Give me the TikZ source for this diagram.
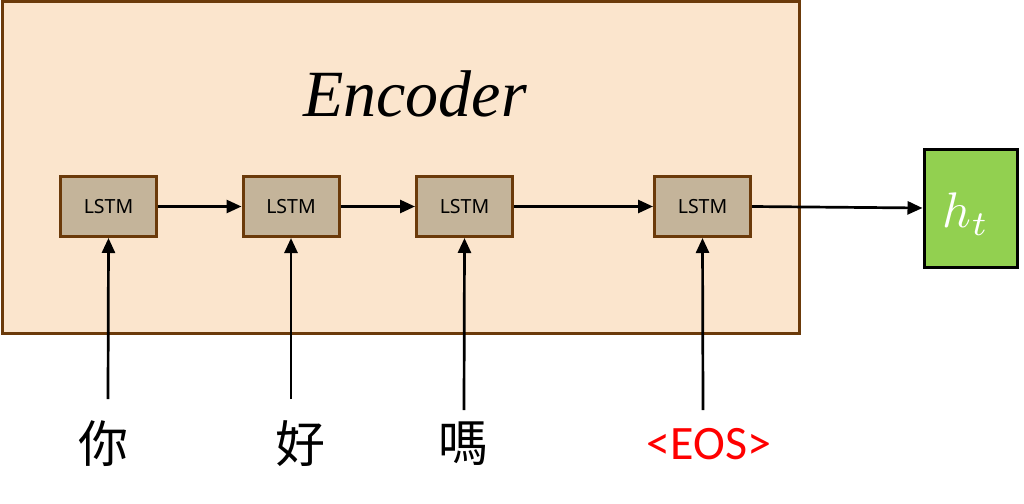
\documentclass[tikz,border=0pt]{standalone}
\usepackage{graphicx}
\usepackage{fontspec}
\setmainfont{Liberation Serif}
\newfontfamily\cjkfont{Noto Sans CJK TC}
\newfontfamily\lstmfont{Noto Sans}
\newfontfamily\eosfont{Carlito}
\usetikzlibrary{arrows.meta}
\definecolor{encfill}{HTML}{FBE5CD}
\definecolor{encbrd}{HTML}{6B3A0A}
\definecolor{lstmfill}{HTML}{C4B49A}
\definecolor{htfill}{HTML}{92D050}
\tikzset{
  lstmbox/.style={draw=encbrd, fill=lstmfill, line width=3pt, minimum width=96pt, minimum height=60pt, inner sep=0pt, font=\lstmfont\fontsize{19.5}{19.5}\selectfont},
  conn/.style={line width=2.7pt, -{Triangle[length=15pt,width=13pt]}},
  word/.style={inner sep=0pt, font=\cjkfont\fontsize{50}{50}\selectfont},
}
\begin{document}
\begin{tikzpicture}[x=1pt,y=-1pt]
\useasboundingbox (0,0) rectangle (1024,503);
\node[draw=encbrd, fill=encfill, line width=3pt, minimum width=797pt, minimum height=331pt, inner sep=0pt] (enc) at (401,167.5) {};
\node[font=\itshape\fontsize{66}{66}\selectfont, inner sep=0pt] (enctitle) at (415,94) {Encoder};
\node[lstmbox] (l1) at (108.5,206.5) {LSTM};
\node[lstmbox] (l2) at (291,206.5) {LSTM};
\node[lstmbox] (l3) at (464.5,206.5) {LSTM};
\node[lstmbox] (l4) at (702.5,206.5) {LSTM};
\node[draw=black, fill=htfill, line width=3pt, minimum width=93pt, minimum height=118pt, inner sep=0pt] (ht) at (970.5,208) {};
\node[text=white, inner sep=0pt] (htlabel) at (966,214) {\scalebox{5}{$h_t$}};
\draw[conn] (l1) -- (l2);
\draw[conn] (l2) -- (l3);
\draw[conn] (l3) -- (l4);
\draw[conn] (l4.east) -- (ht.west);
\coordinate (s1) at (108,399);
\coordinate (s2) at (291,399);
\coordinate (s3) at (464,410);
\coordinate (s4) at (703,410);
\draw[conn] (s1) -- (l1.south);
\draw[conn] (s2) -- (l2.south);
\draw[conn] (s3) -- (l3.south);
\draw[conn] (s4) -- (l4.south);
\node[word] (w1) at (103,444) {你};
\node[word] (w2) at (300,444) {好};
\node[word] (w3) at (463,444) {嗎};
\node[inner sep=0pt, text=red, font=\eosfont\fontsize{48}{48}\selectfont] (w4) at (709,444) {<EOS>};
\end{tikzpicture}
\end{document}
